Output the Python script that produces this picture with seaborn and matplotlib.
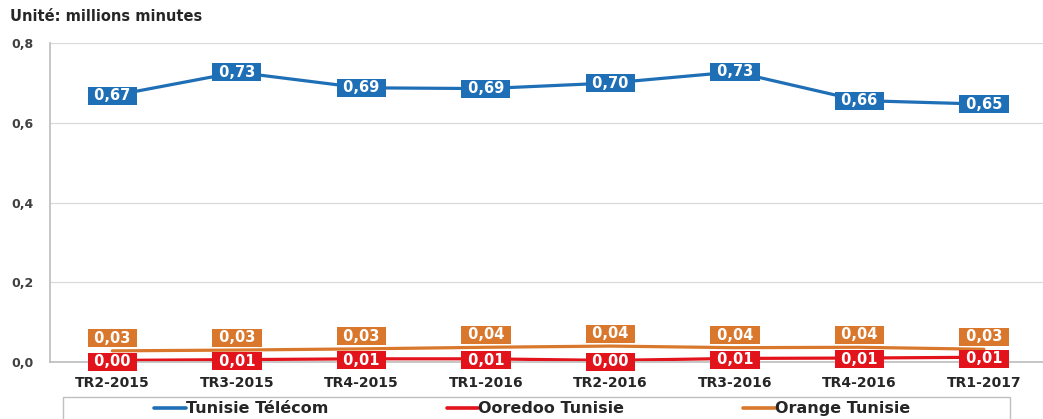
import matplotlib
matplotlib.use("Agg")
import matplotlib.pyplot as plt
from matplotlib.patches import Rectangle
import seaborn as sns
import pandas as pd

categories = ["TR2-2015", "TR3-2015", "TR4-2015", "TR1-2016", "TR2-2016", "TR3-2016", "TR4-2016", "TR1-2017"]
tunisie_telecom = [0.668, 0.727, 0.688, 0.686, 0.700, 0.728, 0.656, 0.647]
ooredoo = [0.004, 0.006, 0.008, 0.008, 0.004, 0.009, 0.010, 0.012]
orange = [0.028, 0.030, 0.033, 0.037, 0.040, 0.036, 0.037, 0.032]

series_names = ["Tunisie Télécom", "Ooredoo Tunisie", "Orange Tunisie"]
colors = {"Tunisie Télécom": "#1f6fb6", "Ooredoo Tunisie": "#e3131b", "Orange Tunisie": "#d9782d"}

rows = []
for name, vals in zip(series_names, [tunisie_telecom, ooredoo, orange]):
    for c, v in zip(categories, vals):
        rows.append({"period": c, "value": v, "series": name})
df = pd.DataFrame(rows)

sns.set_theme(style="white")
plt.rcParams["font.family"] = ["DejaVu Sans"]

fig = plt.figure(figsize=(10.43, 4.19), dpi=100)
ax = fig.add_axes([0.048, 0.136, 0.955, 0.761])

sns.lineplot(data=df, x="period", y="value", hue="series", palette=colors,
             hue_order=series_names, sort=False, linewidth=2.3, ax=ax, legend=False)

ax.set_xlim(-0.5, len(categories) - 0.5)
ax.set_ylim(0, 0.8)
ax.set_yticks([0, 0.2, 0.4, 0.6, 0.8])
ax.set_yticklabels(["0,0", "0,2", "0,4", "0,6", "0,8"], fontsize=9, fontweight="bold", color="#404040")
ax.set_xticks(range(len(categories)))
ax.set_xticklabels(categories, fontsize=10, fontweight="bold", color="#262626")
ax.tick_params(axis="y", length=0, pad=12)
ax.tick_params(axis="x", length=0, pad=10)
ax.set_xlabel("")
ax.set_ylabel("")
ax.grid(axis="y", color="#d9d9d9", linewidth=0.9)
ax.set_axisbelow(True)
for s in ["top", "right"]:
    ax.spines[s].set_visible(False)
ax.spines["left"].set_color("#bfbfbf")
ax.spines["bottom"].set_color("#bfbfbf")

def fmt(v):
    return " " + f"{v:.2f}".replace(".", ",") + " "

offsets = {"Tunisie Télécom": 0, "Ooredoo Tunisie": -1, "Orange Tunisie": 9}
for name, vals in zip(series_names, [tunisie_telecom, ooredoo, orange]):
    for i, v in enumerate(vals):
        ax.annotate(fmt(v), xy=(i, v), xytext=(0, offsets[name]), textcoords="offset points",
                    ha="center", va="center", fontsize=10.5, fontweight="bold", color="white",
                    bbox=dict(boxstyle="square,pad=0.1", fc=colors[name], ec="none"), zorder=5)

fig.text(0.01, 0.95, "Unité: millions minutes", fontsize=10.5, fontweight="bold", color="#262626")

fig.patches.append(Rectangle((0.0604, -0.05), 0.908, 0.1025, transform=fig.transFigure,
                             fill=False, edgecolor="#bfbfbf", linewidth=1.0))
handles = [plt.Line2D([], [], color=colors[n], linewidth=2.6) for n in series_names]
leg = fig.legend(handles, series_names, loc="center", ncol=3,
                 bbox_to_anchor=(0.51, 0.024), frameon=False,
                 prop={"weight": "bold", "size": 11.5}, handlelength=2.0, handletextpad=0.0,
                 columnspacing=7.4, borderpad=0.0)
for t in leg.get_texts():
    t.set_color("#262626")

fig.savefig("out.png", dpi=100)
